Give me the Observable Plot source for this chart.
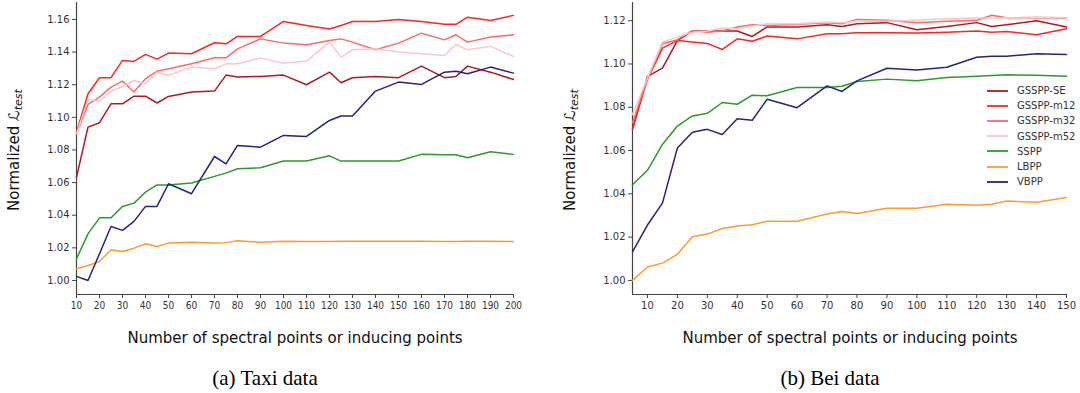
<!DOCTYPE html>
<html>
<head>
<meta charset="utf-8">
<script src="https://cdn.jsdelivr.net/npm/d3@7"></script>
<script src="https://cdn.jsdelivr.net/npm/@observablehq/plot@0.6"></script>
<style>
  html, body { margin: 0; padding: 0; background: #fff; }
  #wrap { position: relative; width: 1080px; height: 393px; overflow: hidden; font-family: "DejaVu Sans", sans-serif; }
  .chart { position: absolute; top: 0; }
  .xlabel { position: absolute; font-size: 15px; color: #111; white-space: nowrap; transform: translate(-50%, -50%); }
  .ylabel { position: absolute; font-size: 15px; color: #111; white-space: nowrap; transform: translate(-50%, -50%) rotate(-90deg); }
  .ylabel sub { font-size: 11px; font-style: italic; vertical-align: -3px; }
  .caption { position: absolute; font-family: "Liberation Serif", "DejaVu Serif", serif; font-size: 21px; color: #000; white-space: nowrap; transform: translate(-50%, -50%); }
  .legend { position: absolute; left: 985px; top: 83px; font-size: 10px; color: #333; }
  .legend .row { height: 15.2px; display: flex; align-items: center; }
  .legend svg { margin-right: 8px; }
</style>
</head>
<body>
<div id="wrap"></div>
<script>
// ---------- data ----------
const seriesNames = ["GSSPP-SE", "GSSPP-m12", "GSSPP-m32", "GSSPP-m52", "SSPP", "LBPP", "VBPP"];
const seriesColors = ["#b3191c", "#ff2323", "#fb6a6a", "#ffc4c8", "#2b9a2b", "#ff9a2e", "#22267a"];

const taxiX = [10,15,20,25,30,35,40,45,50,60,70,75,80,90,100,110,120,125,130,140,150,160,170,175,180,190,200];
const taxiSE   = [1.0633,1.0940,1.0967,1.1083,1.1083,1.1130,1.1130,1.1088,1.1128,1.1155,1.1161,1.1259,1.1247,1.1251,1.1259,1.1200,1.1277,1.1212,1.1243,1.1251,1.1243,1.1314,1.1243,1.1251,1.1314,1.1277,1.1232];
const taxiM12  = [1.0909,1.1145,1.1243,1.1243,1.1349,1.1343,1.1386,1.1357,1.1394,1.1390,1.1457,1.1451,1.1496,1.1496,1.1588,1.1563,1.1541,1.1563,1.1588,1.1588,1.1600,1.1588,1.1570,1.1570,1.1614,1.1594,1.1625];
const taxiM32  = [1.0900,1.1079,1.1124,1.1185,1.1222,1.1155,1.1236,1.1283,1.1298,1.1328,1.1365,1.1365,1.1420,1.1481,1.1455,1.1445,1.1471,1.1481,1.1461,1.1414,1.1455,1.1516,1.1475,1.1506,1.1461,1.1492,1.1506];
const taxiM52  = [1.0900,1.1108,1.1100,1.1161,1.1189,1.1226,1.1206,1.1277,1.1257,1.1308,1.1298,1.1328,1.1328,1.1363,1.1332,1.1345,1.1461,1.1369,1.1414,1.1420,1.1400,1.1390,1.1379,1.1447,1.1414,1.1435,1.1373];
const taxiSSPP = [1.0133,1.0286,1.0384,1.0384,1.0454,1.0474,1.0541,1.0586,1.0586,1.0597,1.0638,1.0658,1.0685,1.0691,1.0732,1.0732,1.0764,1.0732,1.0732,1.0732,1.0732,1.0773,1.0771,1.0771,1.0752,1.0789,1.0773];
const taxiLBPP = [1.0072,1.0092,1.0116,1.0188,1.0178,1.0198,1.0225,1.0208,1.0229,1.0235,1.0229,1.0232,1.0243,1.0235,1.0241,1.0239,1.0239,1.0240,1.0241,1.0240,1.0240,1.0240,1.0239,1.0239,1.0240,1.0240,1.0239];
const taxiVBPP = [1.0025,1.0000,1.0164,1.0331,1.0307,1.0362,1.0454,1.0454,1.0593,1.0532,1.0760,1.0715,1.0828,1.0817,1.0889,1.0883,1.0981,1.1008,1.1008,1.1161,1.1216,1.1202,1.1277,1.1283,1.1267,1.1308,1.1271];

const beiX = [5,10,15,20,25,30,35,40,45,50,60,70,75,80,90,100,110,120,125,130,140,150];
const beiSE   = [1.0700,1.0943,1.0981,1.1108,1.1152,1.1152,1.1152,1.1152,1.1127,1.1171,1.1171,1.1181,1.1173,1.1186,1.1191,1.1158,1.1173,1.1191,1.1173,1.1181,1.1200,1.1171];
const beiM12  = [1.0700,1.0930,1.1073,1.1108,1.1101,1.1095,1.1067,1.1116,1.1105,1.1129,1.1116,1.1140,1.1140,1.1144,1.1144,1.1143,1.1147,1.1152,1.1147,1.1150,1.1135,1.1163];
const beiM32  = [1.0729,1.0930,1.1093,1.1112,1.1155,1.1147,1.1152,1.1171,1.1181,1.1178,1.1183,1.1191,1.1186,1.1206,1.1202,1.1191,1.1197,1.1202,1.1225,1.1214,1.1214,1.1212];
const beiM52  = [1.0767,1.0935,1.1101,1.1124,1.1147,1.1152,1.1166,1.1163,1.1175,1.1186,1.1186,1.1194,1.1191,1.1197,1.1197,1.1202,1.1209,1.1212,1.1212,1.1214,1.1217,1.1214];
const beiSSPP = [1.0442,1.0509,1.0628,1.0713,1.0760,1.0772,1.0822,1.0814,1.0856,1.0853,1.0891,1.0891,1.0897,1.0919,1.0930,1.0922,1.0938,1.0943,1.0947,1.0950,1.0948,1.0943];
const beiLBPP = [1.0000,1.0062,1.0080,1.0121,1.0202,1.0214,1.0240,1.0251,1.0257,1.0273,1.0273,1.0307,1.0318,1.0309,1.0333,1.0333,1.0352,1.0347,1.0352,1.0367,1.0361,1.0383];
const beiVBPP = [1.0132,1.0256,1.0357,1.0612,1.0685,1.0698,1.0674,1.0747,1.0740,1.0837,1.0798,1.0899,1.0873,1.0922,1.0980,1.0972,1.0985,1.1031,1.1036,1.1036,1.1047,1.1044];

const taxiXTicks = [10,20,30,40,50,60,70,80,90,100,110,120,130,140,150,160,170,180,190,200];
const taxiYTicks = [1.00,1.02,1.04,1.06,1.08,1.10,1.12,1.14,1.16];
const beiXTicks = [10,20,30,40,50,60,70,80,90,100,110,120,130,140,150];
const beiYTicks = [1.00,1.02,1.04,1.06,1.08,1.10,1.12];

const xLabel = "Number of spectral points or inducing points";
const captions = ["(a) Taxi data", "(b) Bei data"];

// ---------- build ----------
function tidy(xs, cols) {
  const out = [];
  cols.forEach((vals, i) => vals.forEach((v, j) => out.push({series: seriesNames[i], x: xs[j], y: v})));
  return out;
}

function makeChart({xs, cols, xDomain, yDomain, xTicks, yTicks, width, marginLeft, marginRight, xFont}) {
  const data = tidy(xs, cols);
  return Plot.plot({
    width, height: 322,
    marginLeft, marginRight, marginTop: 2, marginBottom: 28,
    style: {fontFamily: "DejaVu Sans, sans-serif", fontSize: "10px", color: "#333", background: "transparent"},
    x: {domain: xDomain},
    y: {domain: yDomain},
    color: {domain: seriesNames, range: seriesColors},
    marks: [
      Plot.axisX({ticks: xTicks, tickSize: 4, tickPadding: 3, tickFormat: d => String(d), label: null, stroke: "#444", fontFamily: xFont}),
      Plot.axisY({ticks: yTicks, tickSize: 4, tickPadding: 3, tickFormat: d => d.toFixed(2), label: null, stroke: "#444"}),
      Plot.ruleY([yDomain[0]], {stroke: "#444", strokeWidth: 1.2}),
      Plot.ruleX([xDomain[0]], {stroke: "#444", strokeWidth: 1.2}),
      Plot.line(data, {x: "x", y: "y", z: "series", stroke: "series", strokeWidth: 1.5, strokeLinejoin: "round"})
    ]
  });
}

const wrap = document.getElementById("wrap");

const left = makeChart({
  xs: taxiX, cols: [taxiSE, taxiM12, taxiM32, taxiM52, taxiSSPP, taxiLBPP, taxiVBPP],
  xDomain: [10, 200], yDomain: [0.9914, 1.1704], xTicks: taxiXTicks, yTicks: taxiYTicks,
  width: 530, marginLeft: 76, marginRight: 17, xFont: "DejaVu Sans Condensed, Liberation Sans Narrow, DejaVu Sans, sans-serif"
});
left.classList.add("chart"); left.style.left = "0px";
wrap.appendChild(left);

const right = makeChart({
  xs: beiX, cols: [beiSE, beiM12, beiM32, beiM52, beiSSPP, beiLBPP, beiVBPP],
  xDomain: [5, 150], yDomain: [0.9935, 1.1284], xTicks: beiXTicks, yTicks: beiYTicks,
  width: 1080 - 540, marginLeft: 632 - 540, marginRight: 1080 - 1066, xFont: "DejaVu Sans, sans-serif"
});
right.classList.add("chart"); right.style.left = "540px";
wrap.appendChild(right);

function addDiv(cls, html, x, y) {
  const d = document.createElement("div");
  d.className = cls; d.innerHTML = html;
  d.style.left = x + "px"; d.style.top = y + "px";
  wrap.appendChild(d);
}
addDiv("xlabel", xLabel, 295, 338);
addDiv("xlabel", xLabel, 850, 338);
addDiv("ylabel", "Normalized &#x2112;<sub>test</sub>", 15, 150);
addDiv("ylabel", "Normalized &#x2112;<sub>test</sub>", 571, 150);
addDiv("caption", captions[0], 265, 378);
addDiv("caption", captions[1], 830, 378);

// legend (right chart)
const leg = document.createElement("div");
leg.className = "legend";
seriesNames.forEach((name, i) => {
  const row = document.createElement("div");
  row.className = "row";
  row.innerHTML = `<svg width="24" height="6"><line x1="2" x2="23" y1="3" y2="3" stroke="${seriesColors[i]}" stroke-width="1.8"/></svg><span>${name}</span>`;
  leg.appendChild(row);
});
wrap.appendChild(leg);
</script>
</body>
</html>
